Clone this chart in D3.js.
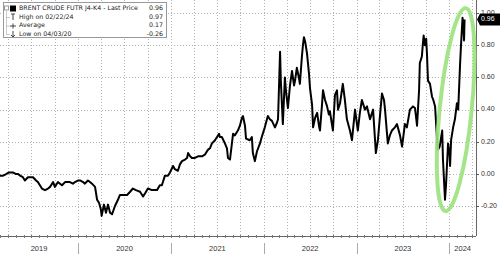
<!DOCTYPE html>
<html>
<head>
<meta charset="utf-8">
<script src="https://cdn.jsdelivr.net/npm/d3@7"></script>
<style>
  body { margin: 0; background: #fff; }
  svg { display: block; font-family: "Liberation Sans", Arial, sans-serif; }
</style>
</head>
<body>
<div id="chart"></div>
<script>
// DATA
const dates = [
  "2019-02-28","2019-03-12","2019-03-24","2019-04-04","2019-04-20","2019-05-02","2019-05-10","2019-05-18","2019-05-29","2019-06-06",
  "2019-06-18","2019-06-26","2019-07-08","2019-07-20","2019-07-27","2019-08-04","2019-08-12","2019-08-24","2019-09-05","2019-09-13",
  "2019-09-25","2019-10-02","2019-10-14","2019-10-22","2019-10-30","2019-11-11","2019-11-23","2019-11-30","2019-12-12","2019-12-20",
  "2020-01-02","2020-01-09","2020-01-21","2020-01-28","2020-02-09","2020-02-17","2020-02-25","2020-03-08","2020-03-16","2020-03-24",
  "2020-03-31","2020-04-03","2020-04-12","2020-04-20","2020-04-28","2020-05-06","2020-05-14","2020-05-25","2020-06-06","2020-06-14",
  "2020-06-30","2020-07-12","2020-07-24","2020-08-04","2020-08-16","2020-09-01","2020-09-13","2020-09-21","2020-10-02","2020-10-18",
  "2020-11-07","2020-11-18","2020-11-26","2020-12-08","2020-12-20","2020-12-28","2021-01-09","2021-01-16","2021-01-28","2021-02-05",
  "2021-02-13","2021-02-25","2021-03-05","2021-03-09","2021-03-17","2021-03-24","2021-04-05","2021-04-17","2021-05-03","2021-05-14",
  "2021-05-26","2021-06-03","2021-06-11","2021-06-23","2021-07-01","2021-07-09","2021-07-12","2021-07-20","2021-08-01","2021-08-09",
  "2021-08-13","2021-08-21","2021-09-02","2021-09-09","2021-09-21","2021-09-29","2021-10-07","2021-10-11","2021-10-19","2021-10-23",
  "2021-11-07","2021-11-15","2021-11-19","2021-11-27","2021-12-05","2021-12-17","2021-12-24","2022-01-05","2022-01-17","2022-01-25",
  "2022-02-02","2022-02-14","2022-02-22","2022-02-26","2022-03-06","2022-03-09","2022-03-17","2022-03-25","2022-03-29","2022-04-06",
  "2022-04-14","2022-04-22","2022-04-30","2022-05-04","2022-05-11","2022-05-19","2022-05-23","2022-05-31","2022-06-04","2022-06-08",
  "2022-06-13","2022-06-20","2022-06-28","2022-07-02","2022-07-10","2022-07-14","2022-07-22","2022-07-30","2022-08-06","2022-08-10",
  "2022-08-18","2022-08-22","2022-08-30","2022-09-07","2022-09-14","2022-09-18","2022-09-30","2022-10-08","2022-10-16","2022-10-20",
  "2022-10-28","2022-11-08","2022-11-16","2022-11-24","2022-12-06","2022-12-14","2022-12-26","2023-01-06","2023-01-14","2023-01-22",
  "2023-02-03","2023-02-11","2023-02-23","2023-03-07","2023-03-18","2023-03-26","2023-04-03","2023-04-11","2023-04-19","2023-04-23",
  "2023-05-04","2023-05-12","2023-05-20","2023-06-01","2023-06-09","2023-06-21","2023-06-29","2023-07-07","2023-07-10","2023-07-18",
  "2023-07-30","2023-08-11","2023-08-19","2023-08-27","2023-09-04","2023-09-07","2023-09-15","2023-09-19","2023-09-22","2023-09-27",
  "2023-10-02","2023-10-05","2023-10-09","2023-10-17","2023-10-25","2023-10-30","2023-11-06","2023-11-13","2023-11-17","2023-11-24",
  "2023-12-04","2023-12-07","2023-12-15","2023-12-19","2023-12-27","2024-01-02","2024-01-04","2024-01-08","2024-01-16","2024-01-23",
  "2024-01-31","2024-02-05","2024-02-12","2024-02-16","2024-02-22","2024-02-26","2024-02-28","2024-03-01"
];
const spreadValues = [
  -0.01,-0.01,0.00,0.01,0.01,0.00,0.00,-0.01,-0.02,-0.04,
  -0.02,-0.02,-0.02,-0.04,-0.05,-0.07,-0.09,-0.10,-0.09,-0.08,
  -0.05,-0.08,-0.05,-0.06,-0.07,-0.05,-0.05,-0.05,-0.06,-0.05,
  -0.04,-0.04,-0.05,-0.06,-0.04,-0.05,-0.06,-0.08,-0.16,-0.18,
  -0.22,-0.26,-0.19,-0.24,-0.19,-0.24,-0.25,-0.20,-0.16,-0.13,
  -0.13,-0.13,-0.11,-0.09,-0.10,-0.11,-0.14,-0.12,-0.09,-0.10,
  -0.10,-0.07,-0.07,-0.01,-0.01,0.01,0.05,0.03,0.02,0.06,
  0.08,0.09,0.10,0.13,0.11,0.10,0.10,0.11,0.11,0.12,
  0.15,0.16,0.19,0.21,0.23,0.25,0.23,0.23,0.19,0.16,
  0.10,0.09,0.25,0.24,0.27,0.30,0.35,0.36,0.30,0.22,
  0.21,0.23,0.13,0.08,0.14,0.19,0.23,0.29,0.36,0.34,
  0.33,0.29,0.32,0.34,0.76,0.58,0.31,0.60,0.52,0.41,
  0.55,0.64,0.55,0.58,0.66,0.60,0.56,0.73,0.80,0.85,
  0.82,0.75,0.62,0.53,0.43,0.29,0.35,0.38,0.30,0.27,
  0.43,0.52,0.46,0.42,0.37,0.39,0.27,0.49,0.52,0.40,
  0.44,0.56,0.46,0.34,0.27,0.21,0.40,0.27,0.38,0.46,
  0.40,0.42,0.34,0.40,0.13,0.21,0.36,0.50,0.46,0.40,
  0.19,0.24,0.27,0.29,0.31,0.24,0.17,0.27,0.31,0.29,
  0.40,0.42,0.41,0.30,0.52,0.69,0.73,0.81,0.86,0.80,
  0.84,0.75,0.58,0.56,0.48,0.46,0.42,0.23,0.15,0.17,
  0.27,0.09,-0.16,-0.07,0.19,0.12,0.05,0.21,0.29,0.34,
  0.44,0.40,0.67,0.80,0.97,0.90,0.83,0.96
];
const yTicks = [-0.2, 0, 0.2, 0.4, 0.6, 0.8, 1.0];
const xDomain = ["2019-02-28", "2024-04-15"];
const yDomain = [-0.385, 1.081];
const legendLabels = ["BRENT CRUDE FUTR J4-K4 - Last Price", "High on 02/22/24", "Average", "Low on 04/03/20"];
const legendValues = ["0.96", "0.97", "0.17", "-0.26"];
const lastPrice = 0.96;
// annotation ellipse around the recent swing
const ringCenter = ["2024-01-26", 0.40];

// SETUP
const width = 500;
const height = 254;
const plotRight = 476;
const plotBottom = 236;
const parseDate = d3.timeParse("%Y-%m-%d");
const gridGrey = "#b4b4b4";
const textGrey = "#333";
const legendFont = "'DejaVu Sans', Verdana, sans-serif";

const series = dates.map((d, i) => ({ date: parseDate(d), value: spreadValues[i] }));

const x = d3.scaleTime()
  .domain(xDomain.map(parseDate))
  .range([0, plotRight]);

const y = d3.scaleLinear()
  .domain(yDomain)
  .range([plotBottom, 0]);

const svg = d3.select("#chart")
  .append("svg")
  .attr("width", width)
  .attr("height", height);

// grid: quarterly verticals, horizontal at each label
const quarters = d3.timeMonth.every(3).range(x.domain()[0], x.domain()[1]);
svg.append("g")
  .selectAll("line")
  .data(quarters)
  .join("line")
  .attr("x1", d => Math.round(x(d)) + 0.5)
  .attr("x2", d => Math.round(x(d)) + 0.5)
  .attr("y1", 0)
  .attr("y2", plotBottom)
  .attr("stroke", gridGrey)
  .attr("stroke-dasharray", "1,2");

svg.append("g")
  .selectAll("line")
  .data(yTicks)
  .join("line")
  .attr("x1", 0)
  .attr("x2", plotRight)
  .attr("y1", d => Math.round(y(d)) + 0.5)
  .attr("y2", d => Math.round(y(d)) + 0.5)
  .attr("stroke", gridGrey)
  .attr("stroke-dasharray", "1,2");

// bottom axis line, month ticks, year separators and labels
svg.append("line")
  .attr("x1", 0).attr("x2", plotRight)
  .attr("y1", plotBottom + 0.5).attr("y2", plotBottom + 0.5)
  .attr("stroke", "#666");

svg.append("line")
  .attr("x1", plotRight + 0.5).attr("x2", plotRight + 0.5)
  .attr("y1", 0).attr("y2", plotBottom)
  .attr("stroke", "#666");

const months = d3.timeMonth.range(x.domain()[0], x.domain()[1]);
svg.append("g")
  .selectAll("line")
  .data(months)
  .join("line")
  .attr("x1", d => Math.round(x(d)) + 0.5)
  .attr("x2", d => Math.round(x(d)) + 0.5)
  .attr("y1", plotBottom - 1)
  .attr("y2", plotBottom + 2)
  .attr("stroke", "#777");

const yearStarts = d3.timeYear.range(x.domain()[0], x.domain()[1]);
svg.append("g")
  .selectAll("line")
  .data(yearStarts)
  .join("line")
  .attr("x1", d => Math.round(x(d)) + 0.5)
  .attr("x2", d => Math.round(x(d)) + 0.5)
  .attr("y1", plotBottom + 7)
  .attr("y2", height)
  .attr("stroke", "#aaa");

const years = d3.range(x.domain()[0].getFullYear(), x.domain()[1].getFullYear() + 1);
svg.append("g")
  .selectAll("text")
  .data(years)
  .join("text")
  .attr("x", yr => {
    const a = Math.max(0, x(new Date(yr, 0, 1)));
    const b = Math.min(plotRight, x(new Date(yr + 1, 0, 1)));
    return (a + b) / 2;
  })
  .attr("y", 249)
  .attr("text-anchor", "middle")
  .attr("dominant-baseline", "middle")
  .attr("font-size", "7.5px")
  .attr("fill", textGrey)
  .text(yr => yr);

// right axis labels
const yAxisG = svg.append("g");
yAxisG.selectAll("line")
  .data(yTicks)
  .join("line")
  .attr("x1", plotRight)
  .attr("x2", plotRight + 3)
  .attr("y1", d => Math.round(y(d)) + 0.5)
  .attr("y2", d => Math.round(y(d)) + 0.5)
  .attr("stroke", "#555");
yAxisG.selectAll("text")
  .data(yTicks)
  .join("text")
  .attr("x", plotRight + 5)
  .attr("y", d => y(d))
  .attr("dominant-baseline", "middle")
  .attr("font-size", "7px")
  .attr("fill", textGrey)
  .text(d => d.toFixed(2));

// the spread line
const line = d3.line()
  .x(d => x(d.date))
  .y(d => y(d.value));

svg.append("path")
  .datum(series)
  .attr("fill", "none")
  .attr("stroke", "#000")
  .attr("stroke-width", 2)
  .attr("stroke-linejoin", "round")
  .attr("d", line);

// green ring
const cx = x(parseDate(ringCenter[0]));
const cy = y(ringCenter[1]);
svg.append("ellipse")
  .attr("cx", cx)
  .attr("cy", cy)
  .attr("rx", 16)
  .attr("ry", 102)
  .attr("transform", `rotate(5.7, ${cx}, ${cy})`)
  .attr("fill", "none")
  .attr("stroke", "#9be27d")
  .attr("stroke-width", 4)
  .attr("opacity", 0.9);

// last price tag
const ly = y(lastPrice);
svg.append("path")
  .attr("d", `M${plotRight + 1},${ly} L${plotRight + 4},${ly - 6} L${width},${ly - 6} L${width},${ly + 6} L${plotRight + 4},${ly + 6} Z`)
  .attr("fill", "#000");
svg.append("text")
  .attr("x", plotRight + 5)
  .attr("y", ly)
  .attr("dominant-baseline", "middle")
  .attr("font-size", "7px")
  .attr("fill", "#fff")
  .text(lastPrice.toFixed(2));

// legend box
const legend = svg.append("g");
legend.append("rect")
  .attr("x", 3.5).attr("y", 2.5)
  .attr("width", 163).attr("height", 35)
  .attr("fill", "#fff")
  .attr("stroke", "#999");

const rowY = [8.5, 17, 25.5, 34];
legend.append("line")
  .attr("x1", 6.5).attr("x2", 6.5)
  .attr("y1", rowY[0] + 3).attr("y2", rowY[3])
  .attr("stroke", "#999")
  .attr("stroke-dasharray", "1,1");
legend.selectAll("line.branch")
  .data(rowY.slice(1))
  .join("line")
  .attr("class", "branch")
  .attr("x1", 6.5).attr("x2", 10)
  .attr("y1", d => d + 0.5).attr("y2", d => d + 0.5)
  .attr("stroke", "#999")
  .attr("stroke-dasharray", "1,1");
// collapse box and black square
legend.append("rect")
  .attr("x", 4.5).attr("y", rowY[0] - 2.5)
  .attr("width", 4).attr("height", 4)
  .attr("fill", "#fff").attr("stroke", "#999");
legend.append("rect")
  .attr("x", 10).attr("y", rowY[0] - 3)
  .attr("width", 6).attr("height", 6)
  .attr("fill", "#000");
// small marker glyphs for high / average / low
legend.append("path")
  .attr("d", `M11,${rowY[1] - 3} H15 M13,${rowY[1] - 3} V${rowY[1] + 3}`)
  .attr("stroke", "#444").attr("fill", "none");
legend.append("path")
  .attr("d", `M10,${rowY[2] + 0.5} H16 M13,${rowY[2] - 2} V${rowY[2] + 3}`)
  .attr("stroke", "#444").attr("fill", "none");
legend.append("path")
  .attr("d", `M13,${rowY[3] - 3} V${rowY[3] + 3} M11,${rowY[3] + 1} L13,${rowY[3] + 3} L15,${rowY[3] + 1}`)
  .attr("stroke", "#444").attr("fill", "none");

legend.selectAll("text.lab")
  .data(legendLabels)
  .join("text")
  .attr("class", "lab")
  .attr("x", 19)
  .attr("y", (d, i) => rowY[i])
  .attr("dominant-baseline", "middle")
  .attr("font-family", legendFont)
  .attr("font-size", "6.3px")
  .attr("fill", "#222")
  .text(d => d);
legend.selectAll("text.val")
  .data(legendValues)
  .join("text")
  .attr("class", "val")
  .attr("x", 163)
  .attr("y", (d, i) => rowY[i])
  .attr("text-anchor", "end")
  .attr("dominant-baseline", "middle")
  .attr("font-family", legendFont)
  .attr("font-size", "6.3px")
  .attr("fill", "#222")
  .text(d => d);
</script>
</body>
</html>
